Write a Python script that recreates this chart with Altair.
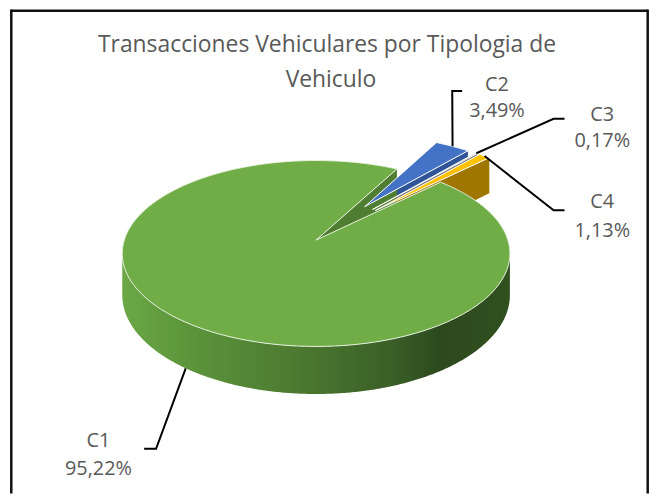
import altair as alt
import numpy as np
import pandas as pd

# ---------------- data ----------------
categories = ["C1", "C2", "C3", "C4"]
shares = [95.22, 3.49, 0.17, 1.13]
pct_labels = ["95,22%", "3,49%", "0,17%", "1,13%"]
title_lines = ["Transacciones Vehiculares por Tipologia de", "Vehiculo"]

# ---------------- styles / layout ----------------
top_colors = {"C1": "#70AD47", "C2": "#4472C4", "C3": "#A5A5A5", "C4": "#FFC000"}
face_colors = {"C1": "#4F7E32", "C2": "#2F5597", "C3": "#7B7B7B", "C4": "#9E7600"}
explode = {"C1": 0.0, "C2": 0.47, "C3": 0.47, "C4": 0.47}
side_stops = [(0.0, "#6BA746"), (0.17, "#5C953B"), (0.45, "#4C7A31"),
              (0.70, "#3A5E27"), (0.82, "#2C4A1D"), (1.0, "#31501F")]

START = 45.6          # first slice angle, degrees clockwise from 12 o'clock
K = 0.144             # perspective strength
DEPTH = 0.4476        # side height (y units)
RX, RY = 193.0, 91.6  # pixels per unit
CX, CY = 318.0, 240.0 # pie centre in page pixels
W, H = 645, 487
FONT = "Open Sans"
TXT = "#595959"

def ux_of(px):
    return (px - CX) / RX

def uy_of(py):
    return (CY - py) / RY

# label layout (page px): centre x, name baseline, pct baseline, leader bend, leader end
label_layout = {
    "C1": dict(x=99, y1=448, y2=476.5, bend=(157, 450), end=(145, 450), h=1),
    "C2": dict(x=500, y1=90, y2=116.5, bend=(455, 90), end=(465, 90), h=0),
    "C3": dict(x=606, y1=120, y2=146.5, bend=(557, 118), end=(568, 118), h=0),
    "C4": dict(x=606, y1=208, y2=236.5, bend=(557, 210), end=(568, 210), h=0),
}

# ---------------- geometry from the values ----------------
def proj(a_deg, r, off, h):
    a = np.radians(a_deg)
    ux = r * np.sin(a) + off[0]
    uy = r * np.cos(a) + off[1]
    s = 1.0 / (1.0 + K * uy)
    return ux * s, uy * s - h * DEPTH * s

total = sum(shares)
slices = {}
acc = START
for c, v in zip(categories, shares):
    a0 = acc
    a1 = acc + v / total * 360.0
    mid = (a0 + a1) / 2
    e = explode[c]
    off = (e * np.sin(np.radians(mid)), e * np.cos(np.radians(mid)))
    slices[c] = dict(a0=a0, a1=a1, mid=mid, off=off)
    acc = a1

def arc(a0, a1, off, h, step=0.5):
    n = max(2, int(np.ceil(abs(a1 - a0) / step)) + 1)
    return [proj(a, 1.0, off, h) for a in np.linspace(a0, a1, n)]

def poly_df(pts, close=True):
    if close:
        pts = list(pts) + [pts[0]]
    return pd.DataFrame({"x": [p[0] for p in pts], "y": [p[1] for p in pts],
                         "i": list(range(len(pts)))})

xs = alt.Scale(domain=[ux_of(8), ux_of(8 + W)], nice=False, zero=False)
ys = alt.Scale(domain=[uy_of(8 + H), uy_of(8)], nice=False, zero=False)

def poly(pts, fill, stroke=None, sw=0.0):
    kw = dict(fill=fill, strokeWidth=sw, strokeJoin="round")
    kw["stroke"] = stroke if stroke else "transparent"
    return alt.Chart(poly_df(pts)).mark_line(**kw).encode(
        x=alt.X("x:Q", scale=xs, axis=None),
        y=alt.Y("y:Q", scale=ys, axis=None),
        order="i:Q",
    )

layers = []

# radial faces of exploded slices (visible clockwise edge)
for c in ["C2", "C3", "C4"]:
    s = slices[c]
    apex0 = proj(0, 0, s["off"], 0)
    apex1 = proj(0, 0, s["off"], 1)
    p0 = proj(s["a1"], 1.0, s["off"], 0)
    p1 = proj(s["a1"], 1.0, s["off"], 1)
    layers.append(poly([apex0, p0, p1, apex1], face_colors[c]))

# front side band of the big slice
g = slices["C1"]
sil = np.degrees(np.arccos(-K))
band_top = arc(sil, 360 - sil, g["off"], 0)
band_bot = arc(sil, 360 - sil, g["off"], 1)[::-1]
grad = alt.Gradient(gradient="linear", x1=0, x2=1, y1=0, y2=0,
                    stops=[alt.GradientStop(offset=o, color=col) for o, col in side_stops])
layers.append(poly(band_top + band_bot, grad))

# radial face of the big slice visible in the gap
apex0 = proj(0, 0, g["off"], 0)
apex1 = proj(0, 0, g["off"], 1)
e0 = proj(g["a1"], 1.0, g["off"], 0)
e1 = proj(g["a1"], 1.0, g["off"], 1)
layers.append(poly([apex0, e0, e1, apex1], face_colors["C1"]))

# top face of the big slice
layers.append(poly([apex0] + arc(g["a0"], g["a1"], g["off"], 0), top_colors["C1"],
                   "#EAF3E4", 1.0))

# top faces of the exploded slices
for c in ["C2", "C3", "C4"]:
    s = slices[c]
    a = proj(0, 0, s["off"], 0)
    layers.append(poly([a] + arc(s["a0"], s["a1"], s["off"], 0), top_colors[c],
                       "white", 1.0))

# leader lines
rows = []
for c in categories:
    s = slices[c]
    L = label_layout[c]
    st = proj(s["mid"], 1.0, s["off"], L["h"])
    pts = [st, (ux_of(L["bend"][0]), uy_of(L["bend"][1])),
           (ux_of(L["end"][0]), uy_of(L["end"][1]))]
    for i, p in enumerate(pts):
        rows.append({"cat": c, "x": p[0], "y": p[1], "i": i})
leaders = alt.Chart(pd.DataFrame(rows)).mark_line(color="black", strokeWidth=2).encode(
    x=alt.X("x:Q", scale=xs, axis=None),
    y=alt.Y("y:Q", scale=ys, axis=None),
    detail="cat:N", order="i:Q")
layers.append(leaders)

# labels
lab = pd.DataFrame({
    "cat": categories,
    "pct": pct_labels,
    "x": [ux_of(label_layout[c]["x"]) for c in categories],
    "y1": [uy_of(label_layout[c]["y1"]) for c in categories],
    "y2": [uy_of(label_layout[c]["y2"]) for c in categories],
})
base = alt.Chart(lab)
layers.append(base.mark_text(font=FONT, fontSize=20, color=TXT, baseline="alphabetic").encode(
    x=alt.X("x:Q", scale=xs, axis=None), y=alt.Y("y1:Q", scale=ys, axis=None), text="cat:N"))
layers.append(base.mark_text(font=FONT, fontSize=20, color=TXT, baseline="alphabetic").encode(
    x=alt.X("x:Q", scale=xs, axis=None), y=alt.Y("y2:Q", scale=ys, axis=None), text="pct:N"))

# title
tdf = pd.DataFrame({"t": title_lines, "i": [0, 1]})
layers.append(alt.Chart(tdf).transform_filter("datum.i == 0").mark_text(
    font=FONT, fontSize=23, color=TXT, baseline="alphabetic").encode(
    x=alt.value(329 - 8), y=alt.value(51 - 8), text="t:N"))
layers.append(alt.Chart(tdf).transform_filter("datum.i == 1").mark_text(
    font=FONT, fontSize=23, color=TXT, baseline="alphabetic").encode(
    x=alt.value(333 - 8), y=alt.value(86 - 8), text="t:N"))

# chart border (top, left, right)
bdf = pd.DataFrame({"k": [0]})
layers.append(alt.Chart(bdf).mark_rule(color="#111111", strokeWidth=2.5).encode(
    x=alt.value(3.3), x2=alt.value(643.7), y=alt.value(1.2)))
layers.append(alt.Chart(bdf).mark_rule(color="#111111", strokeWidth=2.5).encode(
    x=alt.value(3.3), y=alt.value(0), y2=alt.value(H)))
layers.append(alt.Chart(bdf).mark_rule(color="#111111", strokeWidth=2.5).encode(
    x=alt.value(643.7), y=alt.value(0), y2=alt.value(H)))

chart = alt.layer(*layers).properties(
    width=W, height=H, padding=0, background="white",
    autosize=alt.AutoSizeParams(type="none"),
).configure_view(stroke=None)

chart.save("out.html", embed_options={"renderer": "svg", "actions": False})
